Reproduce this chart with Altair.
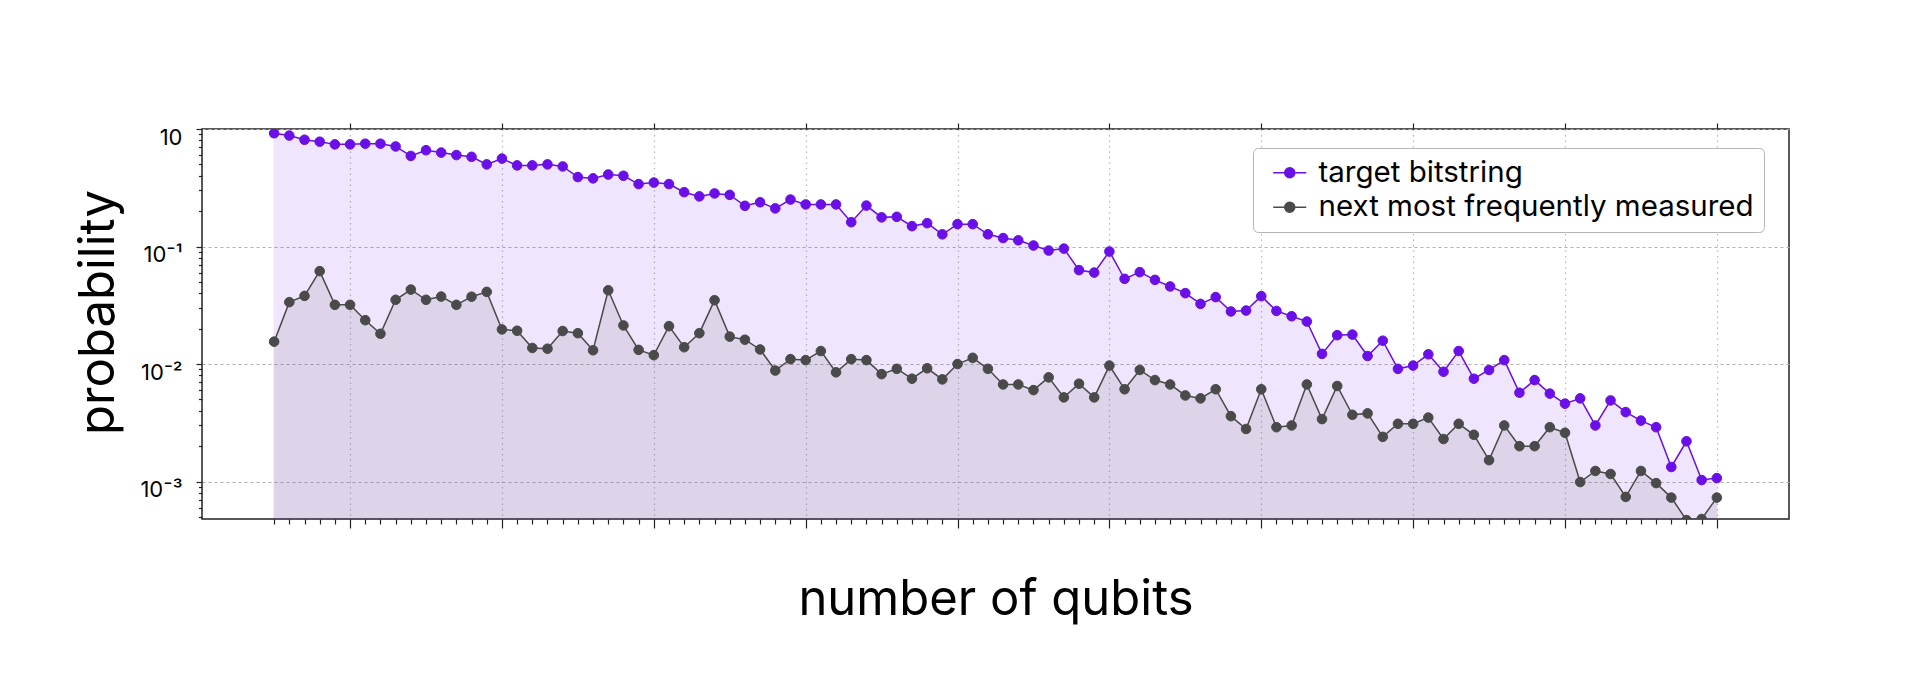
import altair as alt
import pandas as pd

qubits = list(range(5, 101))

target = [0.92, 0.88, 0.81, 0.78, 0.74, 0.74, 0.75, 0.75, 0.71, 0.59,
          0.66, 0.63, 0.60, 0.58, 0.50, 0.56, 0.49, 0.49, 0.50, 0.48,
          0.39, 0.38, 0.41, 0.40, 0.34, 0.35, 0.34, 0.29, 0.267, 0.283,
          0.275, 0.222, 0.238, 0.211, 0.251, 0.228, 0.228, 0.228, 0.161, 0.223,
          0.177, 0.179, 0.149, 0.158, 0.127, 0.155, 0.155, 0.127, 0.118, 0.113,
          0.102, 0.0924, 0.096, 0.063, 0.060, 0.0907, 0.0531, 0.0605, 0.052, 0.0457,
          0.0401, 0.0325, 0.0371, 0.028, 0.0285, 0.0378, 0.0283, 0.0255, 0.023, 0.0122,
          0.0176, 0.0178, 0.0117, 0.0158, 0.0091, 0.0097, 0.0121, 0.0086, 0.0129, 0.0075,
          0.0089, 0.0108, 0.0057, 0.0073, 0.0056, 0.0046, 0.0051, 0.0030, 0.0049, 0.0039,
          0.0033, 0.0029, 0.00133, 0.0022, 0.00103, 0.00107]

next_most = [0.0155, 0.0336, 0.038, 0.0617, 0.0319, 0.0319, 0.0236, 0.0181, 0.0352, 0.043,
             0.0352, 0.0375, 0.0319, 0.0374, 0.0411, 0.0197, 0.0192, 0.0137, 0.0135, 0.0191,
             0.0183, 0.0131, 0.0424, 0.0213, 0.0132, 0.0119, 0.021, 0.0139, 0.0183, 0.0349,
             0.0171, 0.0161, 0.0133, 0.0088, 0.011, 0.0108, 0.0129, 0.0085, 0.011, 0.0108,
             0.0082, 0.0091, 0.0075, 0.0092, 0.0074, 0.0100, 0.0113, 0.0091, 0.0067, 0.0067,
             0.0060, 0.0077, 0.0052, 0.0068, 0.0052, 0.0097, 0.0061, 0.0089, 0.0073, 0.0067,
             0.0054, 0.0051, 0.0061, 0.0036, 0.0028, 0.0061, 0.0029, 0.0030, 0.0067, 0.0034,
             0.0065, 0.0037, 0.0038, 0.0024, 0.0031, 0.0031, 0.0035, 0.0023, 0.0031, 0.0025,
             0.00152, 0.0030, 0.0020, 0.0020, 0.0029, 0.0026, 0.00099, 0.00123, 0.00116, 0.00074,
             0.00123, 0.00097, 0.00073, 0.00047, 0.00048, 0.00073]

series_names = ["target bitstring", "next most frequently measured"]
series_colors = ["#6a0fe8", "#4a4a4a"]

x_minor_ticks = list(range(5, 101))
x_major_ticks = [10, 20, 30, 40, 50, 60, 70, 80, 90, 100]
y_ticks = [0.0005, 0.0006, 0.0007, 0.0008, 0.0009,
           0.001, 0.002, 0.003, 0.004, 0.005, 0.006, 0.007, 0.008, 0.009,
           0.01, 0.02, 0.03, 0.04, 0.05, 0.06, 0.07, 0.08, 0.09,
           0.1, 0.2, 0.3, 0.4, 0.5, 0.6, 0.7, 0.8, 0.9, 1.0]
y_floor = 0.00048

W, H = 1587, 390
FONT = "Inter"

df = pd.DataFrame({
    "qubits": qubits * 2,
    "prob": target + next_most,
    "series": [series_names[0]] * len(qubits) + [series_names[1]] * len(qubits),
})
df_t = df[df.series == series_names[0]]
df_n = df[df.series == series_names[1]]

xscale = alt.Scale(domain=[0.25, 104.75], nice=False, zero=False)
yscale = alt.Scale(type="log", domain=[y_floor, 1.0], nice=False)
cscale = alt.Scale(domain=series_names, range=series_colors)

major_test = "datum.value % 10 === 0"
decade_test = "datum.value == 1 || datum.value == 0.1 || datum.value == 0.01 || datum.value == 0.001"

x_bottom = alt.Axis(
    values=x_minor_ticks, labels=False, domain=False,
    tickSize={"condition": {"test": major_test, "value": 9}, "value": 5},
    tickColor="#222", tickWidth=1.2,
    grid=True, gridColor="#b8b8b8", gridDash=[1.5, 4], gridWidth=1.2,
    gridOpacity={"condition": {"test": major_test, "value": 1}, "value": 0},
    title="number of qubits", titleFont=FONT, titleFontSize=49,
    titleFontWeight="normal", titleColor="#000", titlePadding=47,
)
x_top = alt.Axis(
    orient="top", values=x_major_ticks, labels=False, domain=False,
    tickSize=6, tickColor="#222", tickWidth=1.2, grid=False, title=None,
)
label_expr = ("datum.value == 1 ? '10\u00a0\u00a0\u00a0\u00a0' : datum.value == 0.1 ? '10\u207b\u00b9' : "
              "datum.value == 0.01 ? '10\u207b\u00b2' : datum.value == 0.001 ? '10\u207b\u00b3' : ''")
y_axis = alt.Axis(
    values=y_ticks, labelExpr=label_expr, domain=False,
    tickSize={"condition": {"test": decade_test, "value": 6}, "value": 3.5},
    tickColor="#222", tickWidth=1.2,
    grid=True, gridColor="#b0b0b0", gridDash=[3, 3], gridWidth=1.2,
    gridOpacity={"condition": {"test": decade_test, "value": 1}, "value": 0},
    labelFont=FONT, labelFontSize=22, labelColor="#000", labelPadding=14,
    labelOffset=8, labelFlush=False, labelOverlap=False,
    title="probability", titleFont=FONT, titleFontSize=49,
    titleFontWeight="normal", titleColor="#000", titlePadding=16,
    titleY=183,
)

legend = alt.Legend(
    title=None, orient="none", legendX=1051, legendY=19,
    labelFont=FONT, labelFontSize=29.5, labelColor="#000", labelLimit=800,
    symbolType="M-3.3,0L3.3,0M1,0A1,1,0,1,1,-1,0A1,1,0,1,1,1,0Z",
    symbolSize=100, symbolStrokeWidth=1.5, symbolOpacity=1,
    symbolOffset=12, labelOffset=14, rowPadding=3.5,
    strokeColor="#b5b5b5", fillColor="white", cornerRadius=5, padding=10,
)

area_t = alt.Chart(df_t).mark_area(
    color=series_colors[0], opacity=0.1, stroke=series_colors[0], strokeWidth=1, clip=True
).encode(
    x=alt.X("qubits:Q", scale=xscale, axis=x_bottom),
    y=alt.Y("prob:Q", scale=yscale, axis=y_axis, stack=None),
    y2=alt.datum(y_floor),
)
area_n = alt.Chart(df_n).mark_area(
    color=series_colors[1], opacity=0.1, stroke=series_colors[1], strokeWidth=1, clip=True
).encode(
    x=alt.X("qubits:Q", scale=xscale, axis=x_top),
    y=alt.Y("prob:Q", scale=yscale, axis=None, stack=None),
    y2=alt.datum(y_floor),
)
lines = alt.Chart(df).mark_line(strokeWidth=1.5, clip=True).encode(
    x=alt.X("qubits:Q", scale=xscale, axis=None),
    y=alt.Y("prob:Q", scale=yscale, axis=None),
    stroke=alt.Stroke("series:N", scale=cscale, legend=legend, sort=series_names),
    detail="series:N",
)
points = alt.Chart(df).mark_point(filled=True, size=92, opacity=1, strokeWidth=1, clip=True).encode(
    x=alt.X("qubits:Q", scale=xscale, axis=None),
    y=alt.Y("prob:Q", scale=yscale, axis=None),
    fill=alt.Fill("series:N", scale=cscale, legend=legend, sort=series_names),
    stroke=alt.Stroke("series:N", scale=cscale, legend=legend, sort=series_names),
)

chart = alt.layer(area_t, area_n, lines, points).resolve_axis(
    x="independent", y="independent"
).properties(
    width=W, height=H,
    autosize=alt.AutoSizeParams(type="none"),
    padding={"left": 194, "top": 121, "right": 100, "bottom": 140},
).configure(
    font=FONT
).configure_view(
    stroke="#222", strokeWidth=1.5
)

chart.save("out.html", embed_options={"renderer": "svg", "actions": False})
